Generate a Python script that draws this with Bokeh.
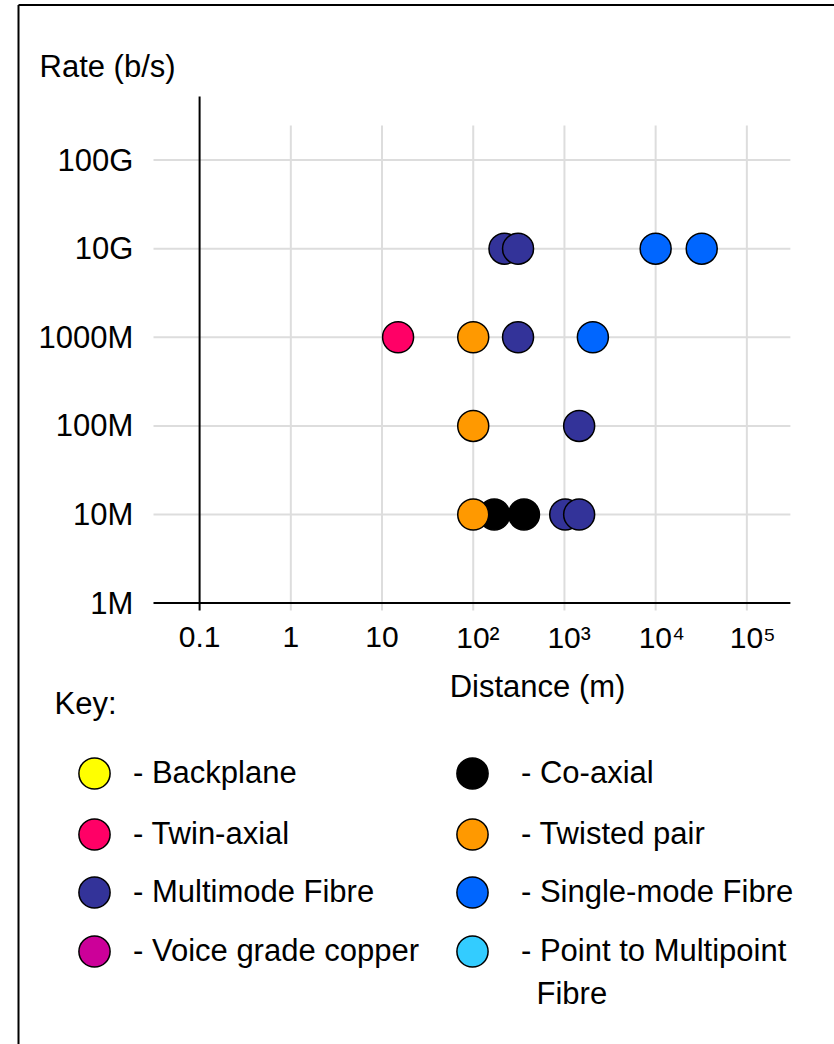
import numpy as np
from bokeh.plotting import figure
from bokeh.models import Label, Legend, LegendItem, Range1d
from bokeh.core.properties import value
from bokeh.embed import file_html
from bokeh.resources import INLINE

# ---------------- data ----------------
categories = ["Backplane", "Twin-axial", "Multimode Fibre", "Voice grade copper",
              "Co-axial", "Twisted pair", "Single-mode Fibre", "Point to Multipoint Fibre"]
colors = ["#FFFF00", "#FF0066", "#333399", "#CC0099",
          "#000000", "#FF9900", "#0066FF", "#33CCFF"]

# distance (m) / rate (b/s) for each medium
backplane_dist, backplane_rate = [], []
twinax_dist, twinax_rate = [15], [1e9]
multimode_dist = [220, 310, 310, 1450, 1020, 1450]
multimode_rate = [1e10, 1e10, 1e9, 1e8, 1e7, 1e7]
voice_dist, voice_rate = [], []
coax_dist, coax_rate = [170, 360], [1e7, 1e7]
twisted_dist, twisted_rate = [100, 100, 100], [1e9, 1e8, 1e7]
singlemode_dist = [10000, 32000, 2050]
singlemode_rate = [1e10, 1e10, 1e9]
ptmp_dist, ptmp_rate = [], []

x_ticks = [0.1, 1, 10, 100, 1000, 10000, 100000]
x_labels = ["0.1", "1", "10", "10²", "10³", "10⁴", "10⁵"]
y_ticks = [1e6, 1e7, 1e8, 1e9, 1e10, 1e11]
y_labels = ["1M", "10M", "100M", "1000M", "10G", "100G"]

series = {
    "Backplane": (backplane_dist, backplane_rate),
    "Twin-axial": (twinax_dist, twinax_rate),
    "Multimode Fibre": (multimode_dist, multimode_rate),
    "Voice grade copper": (voice_dist, voice_rate),
    "Co-axial": (coax_dist, coax_rate),
    "Twisted pair": (twisted_dist, twisted_rate),
    "Single-mode Fibre": (singlemode_dist, singlemode_rate),
    "Point to Multipoint Fibre": (ptmp_dist, ptmp_rate),
}
draw_order = ["Backplane", "Twin-axial", "Voice grade copper", "Point to Multipoint Fibre",
              "Co-axial", "Twisted pair", "Multimode Fibre", "Single-mode Fibre"]

# ---------------- layout / style constants ----------------
FONT = "Liberation Sans"
W, H = 834, 1044
X_START, X_END = 6.563e-4, 9.139e5        # distance range over the page width
Y_START, Y_END = 10.42, 6.328e12          # rate range over the page height
X_AXIS_LEFT = 0.03123                      # left end of horizontal lines
GRID_RIGHT = 3.0e5                         # right end of horizontal lines
Y_AXIS_BOTTOM, Y_AXIS_TOP = 8.25e5, 5.222e11   # vertical axis line extent
GRID_TOP = 2.45e11                         # upper end of vertical grid lines
Y_LABEL_X = 0.0188                         # right edge of rate labels
X_LABEL_Y = 4.09e5                         # vertical centre of distance labels
BORDER_X, BORDER_Y = 1.034e-3, 5.63e12     # outer frame: left and top edges
GRID_COLOR = "#DDDDDD"

p = figure(width=W, height=H, x_axis_type="log", y_axis_type="log",
           x_range=Range1d(X_START, X_END), y_range=Range1d(Y_START, Y_END),
           x_axis_location=None, y_axis_location=None, min_border=0,
           output_backend="svg", toolbar_location=None,
           outline_line_color=None, background_fill_color="white",
           border_fill_color="white")
p.grid.visible = False

# outer frame (top and left edges)
p.segment(x0=[BORDER_X, BORDER_X], y0=[BORDER_Y, BORDER_Y],
          x1=[X_END, BORDER_X], y1=[BORDER_Y, Y_START],
          line_color="black", line_width=2)

# grid lines
gx = x_ticks[1:]
p.segment(x0=gx, y0=[Y_AXIS_BOTTOM] * len(gx), x1=gx, y1=[GRID_TOP] * len(gx),
          line_color=GRID_COLOR, line_width=2)
gy = y_ticks[1:]
p.segment(x0=[X_AXIS_LEFT] * len(gy), y0=gy, x1=[GRID_RIGHT] * len(gy), y1=gy,
          line_color=GRID_COLOR, line_width=2)
# axis lines
p.segment(x0=[X_AXIS_LEFT], y0=[y_ticks[0]], x1=[GRID_RIGHT], y1=[y_ticks[0]],
          line_color="black", line_width=2)
p.segment(x0=[x_ticks[0]], y0=[Y_AXIS_BOTTOM], x1=[x_ticks[0]], y1=[Y_AXIS_TOP],
          line_color="black", line_width=2)

# tick labels
p.text(x=[Y_LABEL_X] * len(y_ticks), y=y_ticks, text=y_labels,
       text_font=value(FONT), text_font_size=value("31px"), text_color="black",
       text_align="right", text_baseline="middle")
plain = [i for i, l in enumerate(x_labels) if not l.startswith("10") or l == "10"]
powers = [i for i in range(len(x_labels)) if i not in plain]
p.text(x=[x_ticks[i] for i in plain], y=[X_LABEL_Y] * len(plain),
       text=[x_labels[i] for i in plain],
       text_font=value(FONT), text_font_size=value("30px"), text_color="black",
       text_align="center", text_baseline="middle")
p.text(x=[x_ticks[i] for i in powers], y=[X_LABEL_Y] * len(powers),
       text=[x_labels[i] for i in powers], x_offset=-17,
       text_font=value(FONT), text_font_size=value("30px"), text_color="black",
       text_align="left", text_baseline="middle")

# data points
for cat in draw_order:
    d, r = series[cat]
    c = colors[categories.index(cat)]
    p.scatter(x=d, y=r, size=31, marker="circle", fill_color=c,
              line_color="black", line_width=1.5)

# free texts (screen px: x from left, y from bottom)
for txt, x, y, align in (("Rate (b/s)", 39, H - 66, "left"),
                         ("Distance (m)", 537, H - 686, "center"),
                         ("Key:", 54, H - 703, "left"),
                         ("Fibre", 536, H - 993, "left")):
    p.add_layout(Label(x=x, y=y, x_units="screen", y_units="screen",
                       text=txt, text_font=FONT, text_font_size="31px",
                       text_color="black", text_align=align,
                       text_baseline="middle"))

# key (legend)
key_cx = [94, 472]
key_cy = [773, 834, 892, 951]
key_standoff = [0, 10]
GL = 78
for i, cat in enumerate(categories):
    col, row = divmod(i, 4)
    dummy = p.scatter(x=[np.nan], y=[np.nan], size=31, marker="circle",
                      fill_color=colors[i], line_color="black", line_width=1.5)
    lab = "- " + ("Point to Multipoint" if cat == "Point to Multipoint Fibre" else cat)
    leg = Legend(items=[LegendItem(label=lab, renderers=[dummy])],
                 location=(key_cx[col] - GL / 2, H - (key_cy[row] + GL / 2)),
                 orientation="vertical", glyph_width=GL, glyph_height=GL,
                 label_standoff=key_standoff[col], padding=0, margin=0, spacing=0,
                 border_line_color=None, background_fill_alpha=0,
                 label_text_font=FONT, label_text_font_size="31px",
                 label_text_color="black")
    p.add_layout(leg)

open("out.html", "w").write(file_html(p, INLINE))
